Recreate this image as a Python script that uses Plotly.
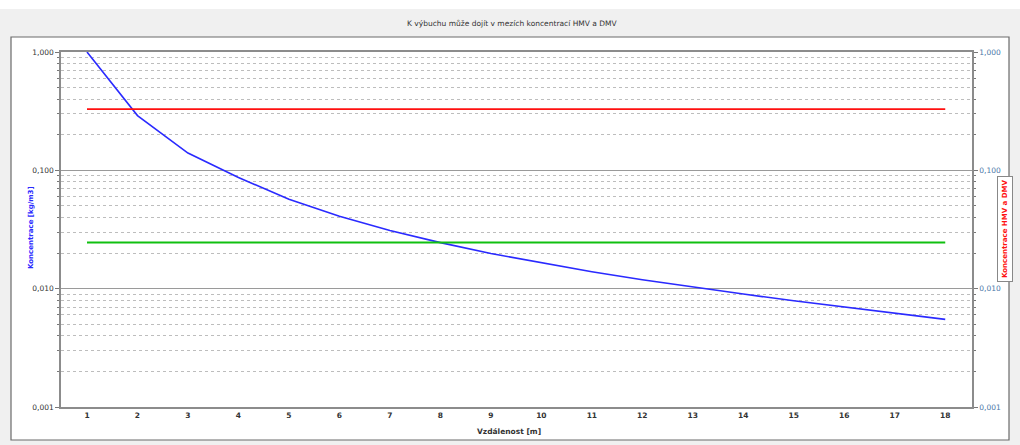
import plotly.graph_objects as go

distance = list(range(1, 19))
concentration = [1.0, 0.29, 0.14, 0.087, 0.057, 0.041, 0.031, 0.0245, 0.0198,
                 0.0165, 0.0139, 0.0119, 0.0103, 0.0090, 0.0079, 0.0070, 0.0062, 0.0055]
hmv = [0.329] * 18
dmv = [0.0245] * 18

ytick_vals = [0.001, 0.01, 0.1, 1.0]
ytick_text = ["0,001", "0,010", "0,100", "1,000"]
minor_vals = [m * 10 ** e for e in (-3, -2, -1) for m in range(2, 10)]

title_text = "K výbuchu může dojít v mezích koncentrací HMV a DMV"
left_title = "Koncentrace [kg/m3]"
right_title = "Koncentrace HMV a DMV"
x_title = "Vzdálenost [m]"

FONT = "DejaVu Sans"
W, H = 1020, 445
ML, MR, MT, MB = 61, 48, 52, 38
PW, PH = W - ML - MR, H - MT - MB


def px(x):
    return (x - ML) / PW


def py(y):
    return (H - MB - y) / PH


fig = go.Figure()
fig.add_trace(go.Scatter(x=distance, y=hmv, mode="lines",
                         line=dict(color="#ff1010", width=1.6), yaxis="y2"))
fig.add_trace(go.Scatter(x=distance, y=dmv, mode="lines",
                         line=dict(color="#10c010", width=2), yaxis="y2"))
fig.add_trace(go.Scatter(x=distance, y=concentration, mode="lines",
                         line=dict(color="#2a2aff", width=1.6)))

fig.update_layout(
    width=W, height=H,
    margin=dict(l=ML, r=MR, t=MT, b=MB),
    paper_bgcolor="#f0f0f0",
    plot_bgcolor="white",
    showlegend=False,
    font=dict(family=FONT, size=8, color="#333"),
    xaxis=dict(
        range=[0.485, 18.53],
        tickvals=distance,
        ticktext=[f"<b>{d}</b>" for d in distance],
        showgrid=False, zeroline=False,
        showline=True, linecolor="#8c8c8c", linewidth=1.5, mirror=True,
        ticks="", ticklen=0,
        tickfont=dict(family=FONT, size=7.5, color="#333"),
    ),
    yaxis=dict(
        type="log", range=[-3, 0],
        tickvals=ytick_vals, ticktext=ytick_text,
        ticks="outside", ticklen=4, tickcolor="#777",
        tickfont=dict(family=FONT, size=7.5, color="#333"),
        showgrid=True, gridcolor="#9a9a9a", gridwidth=1,
        showline=True, linecolor="#8c8c8c", linewidth=1.5,
        zeroline=False,
        minor=dict(tickvals=minor_vals, showgrid=True, gridcolor="#bdbdbd",
                   griddash="dot", gridwidth=1, ticks="outside", ticklen=2,
                   tickcolor="#777"),
    ),
    yaxis2=dict(
        type="log", range=[-3, 0], overlaying="y", side="right",
        tickvals=ytick_vals, ticktext=ytick_text,
        ticks="outside", ticklen=4, tickcolor="#777",
        tickfont=dict(family=FONT, size=7.5, color="#4a78a8"),
        showgrid=False, zeroline=False,
        showline=True, linecolor="#8c8c8c", linewidth=1.5,
        minor=dict(tickvals=minor_vals, ticks="outside", ticklen=2, tickcolor="#777"),
    ),
)

# white panel with border
fig.add_shape(type="rect", xref="paper", yref="paper", layer="below",
              x0=px(11), x1=px(1009), y0=py(440), y1=py(37),
              fillcolor="white", line=dict(color="#6a6a6a", width=1.2))
# white strip at very top
fig.add_shape(type="rect", xref="paper", yref="paper", layer="below",
              x0=px(-5), x1=px(W + 5), y0=py(9), y1=py(-5),
              fillcolor="white", line=dict(width=0))

common = dict(xref="paper", yref="paper", showarrow=False,
              xanchor="center", yanchor="middle")
fig.add_annotation(text=title_text, x=px(512), y=py(23),
                   font=dict(family=FONT, size=7.5, color="#333"), **common)
fig.add_annotation(text=f"<b>{left_title}</b>", x=px(31), y=py(228), textangle=-90,
                   font=dict(family=FONT, size=7, color="#2a2aff"), **common)
fig.add_annotation(text=f"<b>{right_title}</b>", x=px(1005), y=py(229), textangle=-90,
                   font=dict(family=FONT, size=7, color="#ff1010"),
                   bordercolor="#888", borderwidth=1, borderpad=3, bgcolor="white",
                   **common)
fig.add_annotation(text=f"<b>{x_title}</b>", x=px(509), y=py(432),
                   font=dict(family=FONT, size=7.5, color="#333"), **common)

fig.write_html("out.html", config={"displayModeBar": False},
               post_script="document.body.style.margin='0';document.body.style.padding='0';")
